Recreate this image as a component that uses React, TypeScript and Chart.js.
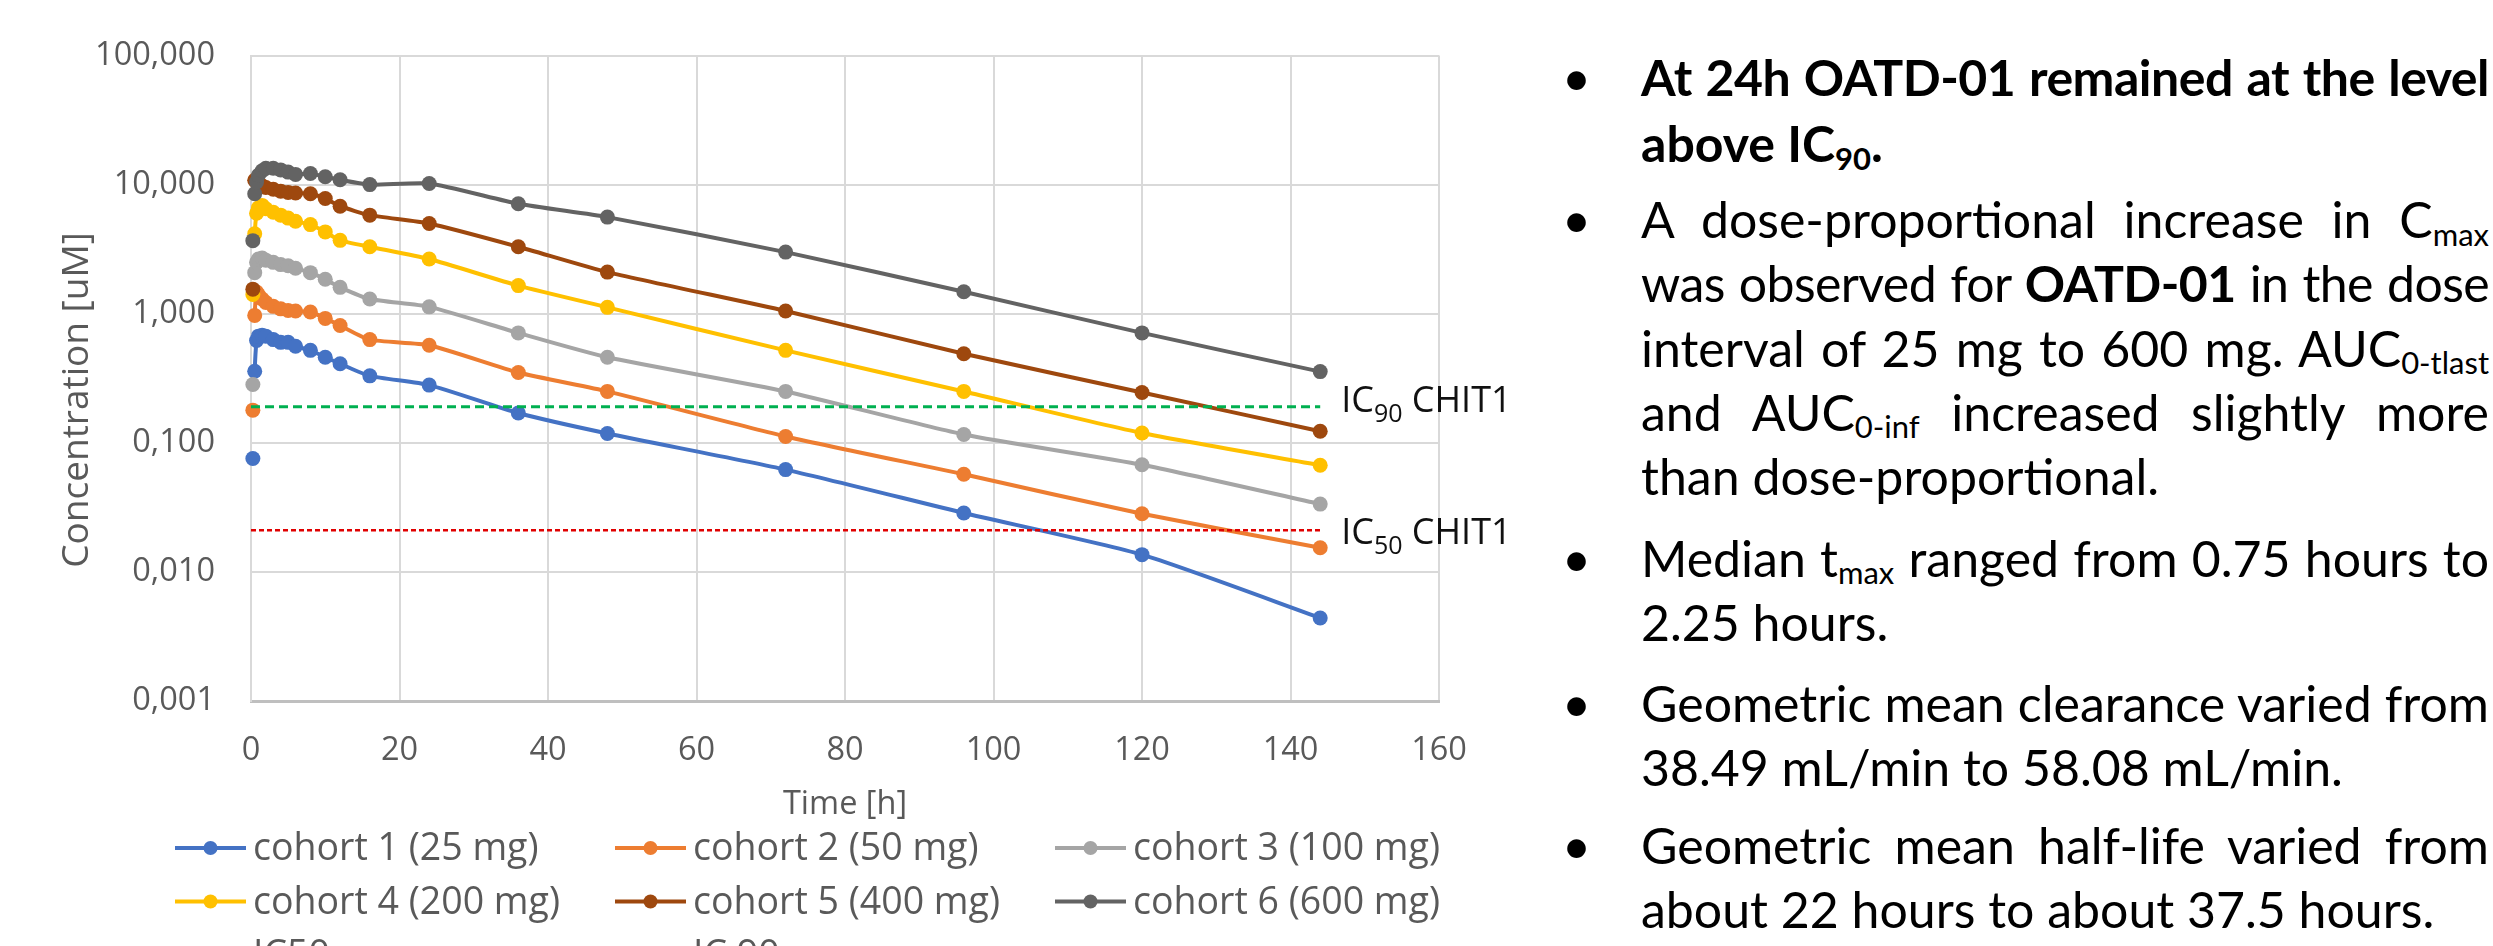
import React, { useEffect, useRef } from 'react';
import { Chart, registerables } from 'chart.js';

Chart.register(...registerables);

// ---------- data ----------
const timesH = [0.25, 0.5, 0.75, 1, 1.5, 2, 3, 4, 5, 6, 8, 10, 12, 16, 24, 36, 48, 72, 96, 120, 144];

const cohort1 = [0.0755, 0.358, 0.62, 0.67, 0.68, 0.67, 0.63, 0.6, 0.6, 0.56, 0.52, 0.46, 0.41, 0.33, 0.28, 0.17, 0.118, 0.062, 0.0286, 0.0136, 0.0044];
const cohort2 = [0.179, 0.97, 1.47, 1.4, 1.3, 1.22, 1.14, 1.09, 1.06, 1.05, 1.03, 0.92, 0.81, 0.63, 0.57, 0.35, 0.25, 0.112, 0.057, 0.0282, 0.0154];
const cohort3 = [0.283, 2.08, 2.5, 2.65, 2.7, 2.6, 2.5, 2.4, 2.35, 2.25, 2.08, 1.85, 1.6, 1.3, 1.13, 0.71, 0.46, 0.25, 0.116, 0.0676, 0.0335];
const cohort4 = [1.41, 4.16, 6.0, 6.6, 6.9, 6.5, 6.1, 5.8, 5.5, 5.2, 4.9, 4.3, 3.7, 3.3, 2.65, 1.65, 1.12, 0.52, 0.25, 0.119, 0.067];
const cohort5 = [1.55, 10.8, 10.5, 10.2, 9.8, 9.5, 9.2, 8.9, 8.7, 8.6, 8.5, 7.8, 6.8, 5.8, 5.0, 3.3, 2.1, 1.05, 0.49, 0.245, 0.123];
const cohort6 = [3.68, 8.5, 10.5, 11.8, 12.8, 13.4, 13.4, 13.0, 12.5, 12.0, 12.2, 11.5, 10.9, 10.0, 10.2, 7.1, 5.6, 3.0, 1.48, 0.71, 0.356];

const cohortLabels = [
  'cohort 1 (25 mg)',
  'cohort 2 (50 mg)',
  'cohort 3 (100 mg)',
  'cohort 4 (200 mg)',
  'cohort 5 (400 mg)',
  'cohort 6 (600 mg)',
];
const cohortValues = [cohort1, cohort2, cohort3, cohort4, cohort5, cohort6];

const icTimes = [0, 144];
const ic50Value = 0.021;
const ic90Value = 0.19;
const icLegendLabels = ['IC50', 'IC 90'];
const icDataLabels = [
  { main: 'IC', sub: '50', rest: ' CHIT1' },
  { main: 'IC', sub: '90', rest: ' CHIT1' },
];

const yTickValues = [0.001, 0.01, 0.1, 1, 10, 100];
const xMin = 0;
const xMax = 160;
const xStep = 20;
const xTitle = 'Time [h]';
const yTitle = 'Concentration [uM]';

// ---------- styles ----------
const cohortColors = ['#4472C4', '#ED7D31', '#A5A5A5', '#FFC000', '#9E480E', '#636363'];
const ic50Color = '#E00000';
const ic90Color = '#00B050';
const ic50Dash = [5, 3];
const ic90Dash = [9, 5];
const axisText = '#595959';
const gridColor = '#D9D9D9';

const fmtTick = (v: number) => v.toFixed(3).replace('.', ',');

const decorPlugin = {
  id: 'decor',
  afterDraw(chart: any) {
    const ctx: CanvasRenderingContext2D = chart.ctx;
    // y axis title
    ctx.save();
    ctx.fillStyle = axisText;
    ctx.font = '37px "Open Sans"';
    ctx.translate(77, 400);
    ctx.rotate(-Math.PI / 2);
    ctx.textAlign = 'center';
    ctx.textBaseline = 'middle';
    ctx.fillText(yTitle, 0, 0);
    ctx.restore();

    // legend (3 columns)
    const colX = [175, 615, 1055];
    const rowY = [848, 901.5, 955];
    const datasets = chart.data.datasets;
    datasets.forEach((ds: any, i: number) => {
      const x = colX[i % 3];
      const y = rowY[Math.floor(i / 3)];
      ctx.save();
      ctx.strokeStyle = ds.borderColor;
      ctx.lineWidth = ds.legendLineWidth || 4;
      ctx.setLineDash(ds.borderDash || []);
      ctx.beginPath();
      ctx.moveTo(x, y);
      ctx.lineTo(x + 71, y);
      ctx.stroke();
      ctx.setLineDash([]);
      if (ds.pointRadius > 0) {
        ctx.fillStyle = ds.pointBackgroundColor;
        ctx.beginPath();
        ctx.arc(x + 35.5, y, 7, 0, Math.PI * 2);
        ctx.fill();
      }
      ctx.fillStyle = axisText;
      ctx.font = '37.5px "Open Sans"';
      ctx.textAlign = 'left';
      ctx.textBaseline = 'alphabetic';
      ctx.fillText(ds.label, x + 78, y + 12);
      ctx.restore();
    });

    // IC data labels at the end of the threshold lines
    datasets.forEach((ds: any, i: number) => {
      if (!ds.icLabel) return;
      const meta = chart.getDatasetMeta(i);
      const last = meta.data[meta.data.length - 1];
      if (!last) return;
      const x0 = last.x + 21;
      const base = last.y + ds.icLabelDy;
      ctx.save();
      ctx.fillStyle = '#111111';
      ctx.textAlign = 'left';
      ctx.textBaseline = 'alphabetic';
      ctx.font = '36px "Open Sans"';
      ctx.fillText(ds.icLabel.main, x0, base);
      let x = x0 + ctx.measureText(ds.icLabel.main).width;
      ctx.font = '25px "Open Sans"';
      ctx.fillText(ds.icLabel.sub, x, base + 10);
      x += ctx.measureText(ds.icLabel.sub).width;
      ctx.font = '36px "Open Sans"';
      ctx.fillText(ds.icLabel.rest, x, base);
      ctx.restore();
    });
  },
};

function buildDatasets() {
  const cohortSets = cohortValues.map((vals, i) => ({
    label: cohortLabels[i],
    data: vals.map((v, j) => ({ x: timesH[j], y: v })),
    borderColor: cohortColors[i],
    backgroundColor: cohortColors[i],
    pointBackgroundColor: cohortColors[i],
    pointBorderWidth: 0,
    pointRadius: 7.5,
    pointHoverRadius: 7.5,
    borderWidth: 4,
    tension: 0.2,
    clip: false,
    order: -1 - i,
    segment: {
      borderColor: (c: any) => (c.p0DataIndex === 0 ? 'rgba(0,0,0,0)' : undefined),
    },
  }));
  const ic50 = {
    label: icLegendLabels[0],
    data: icTimes.map((t) => ({ x: t, y: ic50Value })),
    borderColor: ic50Color,
    borderWidth: 2.5,
    borderDash: ic50Dash,
    pointRadius: 0,
    legendLineWidth: 3,
    tension: 0,
    order: -20,
    icLabel: icDataLabels[0],
    icLabelDy: 14,
  };
  const ic90 = {
    label: icLegendLabels[1],
    data: icTimes.map((t) => ({ x: t, y: ic90Value })),
    borderColor: ic90Color,
    borderWidth: 3,
    borderDash: ic90Dash,
    pointRadius: 0,
    legendLineWidth: 3,
    tension: 0,
    order: -21,
    icLabel: icDataLabels[1],
    icLabelDy: 5,
  };
  return [...cohortSets, ic50, ic90];
}

const bulletStyle: React.CSSProperties = {
  position: 'absolute',
  left: -79,
  width: 28,
  textAlign: 'center',
  top: 0,
};

const subStyle: React.CSSProperties = {
  fontSize: '0.62em',
  position: 'relative',
  top: '0.24em',
  lineHeight: 0,
};

function Line({
  children,
  justify,
  lh,
  ls,
}: {
  children: React.ReactNode;
  justify?: boolean;
  lh: number;
  ls?: number;
}) {
  return (
    <div
      style={{
        height: lh,
        lineHeight: lh + 'px',
        textAlign: justify ? 'justify' : 'left',
        textAlignLast: justify ? 'justify' : 'left',
        whiteSpace: 'nowrap',
        letterSpacing: ls ? ls + 'px' : undefined,
      }}
    >
      {children}
    </div>
  );
}

function Para({ top, lh, bold, children }: { top: number; lh: number; bold?: boolean; children: React.ReactNode }) {
  return (
    <div
      style={{
        position: 'absolute',
        left: 1641,
        top,
        width: 848,
        fontWeight: bold ? 700 : 400,
      }}
    >
      <div style={{ ...bulletStyle, lineHeight: lh + 'px', fontWeight: 400 }}>•</div>
      {children}
    </div>
  );
}

function TextPanel() {
  return (
    <div
      style={{
        position: 'absolute',
        left: 0,
        top: 0,
        fontFamily: 'Lato, "Open Sans", sans-serif',
        fontSize: 50,
        color: '#000',
      }}
    >
      <Para top={44.2} lh={66} bold>
        <Line lh={66} justify ls={-0.5}>
          At 24h OATD-01 remained at the level
        </Line>
        <Line lh={66}>
          above IC<span style={subStyle}>90</span>.
        </Line>
      </Para>
      <Para top={187.2} lh={64.25}>
        <Line lh={64.25} justify>
          A dose-proportional increase in C<span style={subStyle}>max</span>
        </Line>
        <Line lh={64.25} justify ls={-0.6}>
          was observed for <b>OATD-01</b> in the dose
        </Line>
        <Line lh={64.25} justify>
          interval of 25 mg to 600 mg. AUC<span style={subStyle}>0-tlast</span>
        </Line>
        <Line lh={64.25} justify>
          and AUC<span style={subStyle}>0-inf</span> increased slightly more
        </Line>
        <Line lh={64.25}>than dose-proportional.</Line>
      </Para>
      <Para top={525.6} lh={64}>
        <Line lh={64} justify>
          Median t<span style={subStyle}>max</span> ranged from 0.75 hours to
        </Line>
        <Line lh={64}>2.25 hours.</Line>
      </Para>
      <Para top={670.6} lh={64}>
        <Line lh={64} justify>
          Geometric mean clearance varied from
        </Line>
        <Line lh={64}>38.49 mL/min to 58.08 mL/min.</Line>
      </Para>
      <Para top={812.6} lh={64}>
        <Line lh={64} justify>
          Geometric mean half-life varied from
        </Line>
        <Line lh={64}>about 22 hours to about 37.5 hours.</Line>
      </Para>
    </div>
  );
}

export default function App() {
  const ref = useRef<HTMLCanvasElement>(null);

  useEffect(() => {
    const canvas = ref.current;
    if (!canvas) return;
    const chart = new Chart(canvas, {
      type: 'line',
      data: { datasets: buildDatasets() as any },
      options: {
        animation: false,
        responsive: false,
        devicePixelRatio: 1,
        layout: { padding: { top: 47, left: 0, right: 121, bottom: 169 } },
        plugins: {
          legend: { display: false },
          tooltip: { enabled: false },
        },
        scales: {
          x: {
            type: 'linear',
            min: xMin,
            max: xMax,
            afterFit: (s: any) => {
              s.height = 130;
            },
            ticks: {
              stepSize: xStep,
              color: axisText,
              font: { family: 'Open Sans', size: 32.5 },
              padding: 30,
              maxRotation: 0,
            },
            grid: { color: gridColor, lineWidth: 2, drawTicks: false },
            border: { color: '#BFBFBF', width: 3 },
            title: {
              display: true,
              text: xTitle,
              color: axisText,
              font: { family: 'Open Sans', size: 32.5 },
              padding: { top: 0, bottom: 6.5 },
            },
          },
          y: {
            type: 'logarithmic',
            min: yTickValues[0],
            max: yTickValues[yTickValues.length - 1],
            afterFit: (s: any) => {
              s.width = 251;
            },
            afterBuildTicks: (s: any) => {
              s.ticks = yTickValues.map((v) => ({ value: v }));
            },
            ticks: {
              color: axisText,
              font: { family: 'Open Sans', size: 32.5 },
              padding: 36,
              callback: (v: any) => fmtTick(Number(v)),
            },
            grid: { color: gridColor, lineWidth: 2, drawTicks: false },
            border: { color: gridColor, width: 2 },
          },
        },
      },
      plugins: [decorPlugin],
    } as any);
    return () => chart.destroy();
  }, []);

  return (
    <div
      style={{
        position: 'fixed',
        left: 0,
        top: 0,
        width: 2493,
        height: 946,
        overflow: 'hidden',
        background: '#ffffff',
      }}
    >
      <canvas
        ref={ref}
        width={1560}
        height={1000}
        style={{ position: 'absolute', left: 0, top: 0, width: 1560, height: 1000 }}
      />
      <TextPanel />
    </div>
  );
}
